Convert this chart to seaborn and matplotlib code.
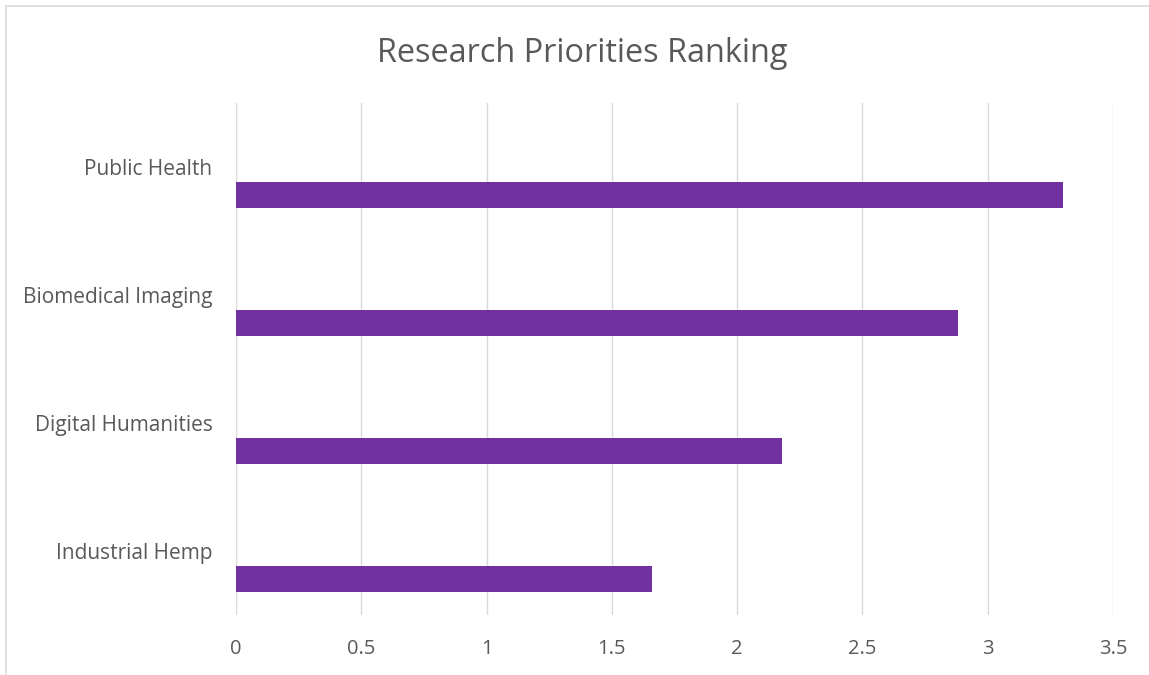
import matplotlib
matplotlib.use("Agg")
import matplotlib.pyplot as plt
import seaborn as sns
import pandas as pd
from matplotlib.patches import Rectangle

# Research priority scores
categories = ["Public Health", "Biomedical Imaging", "Digital Humanities", "Industrial Hemp"]
scores = [3.30, 2.88, 2.18, 1.66]
x_ticks = [0, 0.5, 1, 1.5, 2, 2.5, 3, 3.5]
x_tick_labels = ["0", "0.5", "1", "1.5", "2", "2.5", "3", "3.5"]

df = pd.DataFrame({"Priority": categories, "Score": scores})

sns.set_theme(style="white")
plt.rcParams["font.family"] = ["Open Sans", "DejaVu Sans"]

text_color = "#595959"
grid_color = "#d9d9d9"
bar_color = "#7030a0"

W, H = 1149, 675
fig = plt.figure(figsize=(W / 100, H / 100), dpi=100)
ax = fig.add_axes([236 / W, 1 - 615 / H, (1113 - 236) / W, (615 - 103) / H])

sns.barplot(data=df, x="Score", y="Priority", order=categories, color=bar_color,
            width=0.203, saturation=1, orient="h", ax=ax, zorder=3)

# Bars sit in the lower part of each category band, below the label
for patch in ax.patches:
    patch.set_y(patch.get_y() + 0.219)
    patch.set_edgecolor("none")

ax.set_xlim(0, 3.5)
ax.set_ylim(3.5, -0.5)
ax.set_xticks(x_ticks)
ax.set_xticklabels(x_tick_labels)
ax.set_xlabel("")
ax.set_ylabel("")

ax.xaxis.grid(True, color=grid_color, linewidth=1.0, zorder=0)
ax.yaxis.grid(False)
for s in ax.spines.values():
    s.set_visible(False)
ax.tick_params(axis="x", length=0, pad=17, labelsize=14.5, labelcolor=text_color)
ax.tick_params(axis="y", length=0, pad=17, labelsize=15, labelcolor=text_color)

fig.text(582 / W, 1 - 53 / H, "Research Priorities Ranking", ha="center", va="center",
         fontsize=23.4, color=text_color)

# Chart area border
fig.patches.append(Rectangle((6 / W, -0.1), 1.2, 1 - 6 / H + 0.1, transform=fig.transFigure,
                             fill=False, edgecolor=grid_color, linewidth=1.2))

fig.savefig("out.png", dpi=100, facecolor="white")
